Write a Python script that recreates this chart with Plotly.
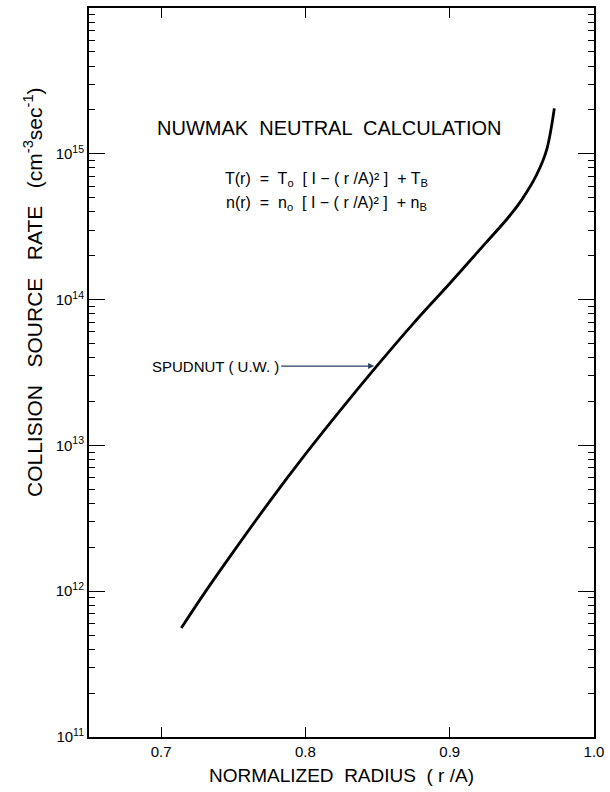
import plotly.graph_objects as go

# Data
radius = [0.714, 0.73, 0.75, 0.775, 0.80, 0.825, 0.85, 0.875, 0.90, 0.925, 0.94, 0.95, 0.96, 0.967, 0.9725]
rate = [5.6e11, 9.7e11, 1.86e12, 4.1e12, 8.7e12, 1.78e13, 3.55e13, 6.9e13, 1.29e14, 2.45e14, 3.6e14, 4.85e14, 7.1e14, 1.05e15, 2.05e15]

x_ticks = [0.7, 0.8, 0.9, 1.0]
x_ticktext = ["0.7", "0.8", "0.9", "1.0"]
y_ticks = [1e11, 1e12, 1e13, 1e14, 1e15]
y_ticktext = ["10<sup>11</sup>", "10<sup>12</sup>", "10<sup>13</sup>", "10<sup>14</sup>", "10<sup>15</sup>"]

spud_x, spud_y = 0.849, 3.5e13

FONT = "Liberation Sans, Arial, sans-serif"

fig = go.Figure()
fig.add_trace(go.Scatter(x=radius, y=rate, mode="lines",
                         line=dict(color="black", width=2.8, shape="spline", smoothing=1.0),
                         showlegend=False, hoverinfo="skip"))

fig.update_layout(
    width=610, height=792,
    margin=dict(l=89, r=11, t=6, b=55),
    paper_bgcolor="white", plot_bgcolor="white",
    font=dict(family=FONT, color="black", size=14),
    showlegend=False,
)

fig.update_xaxes(range=[0.65, 1.0], tickvals=x_ticks, ticktext=x_ticktext,
                 ticks="inside", ticklen=10, tickwidth=1.3, tickcolor="black",
                 showline=True, linecolor="black", linewidth=2, mirror="ticks",
                 showgrid=False, zeroline=False, tickfont=dict(size=15, family=FONT),
                 title=dict(text="NORMALIZED  RADIUS  ( r /A)", font=dict(size=19, family=FONT), standoff=10))

fig.update_yaxes(type="log", range=[11, 16], tickvals=y_ticks, ticktext=y_ticktext,
                 ticks="inside", ticklen=16, tickwidth=1.3, tickcolor="black",
                 minor=dict(ticks="inside", ticklen=6, tickwidth=1.2, tickcolor="black",
                            dtick="D1", showgrid=False),
                 showline=True, linecolor="black", linewidth=2, mirror="allticks",
                 showgrid=False, zeroline=False, tickfont=dict(size=15, family=FONT))

fig.add_annotation(xref="paper", yref="paper", x=-0.112, y=0.611, textangle=-90,
                   text="COLLISION   SOURCE   RATE   (cm<sup>-3</sup>sec<sup>-1</sup>)",
                   showarrow=False, font=dict(size=21, family=FONT), xanchor="center", yanchor="middle")

fig.add_annotation(xref="paper", yref="paper", x=0.475, y=0.836,
                   text="NUWMAK  NEUTRAL  CALCULATION", showarrow=False,
                   font=dict(size=20, family=FONT), xanchor="center", yanchor="middle")
fig.add_annotation(xref="paper", yref="paper", x=0.47, y=0.765,
                   text="T(r)  =  T<sub>o</sub>  [ I \u2212 ( r /A)\u00b2 ]  + T<sub>B</sub>", showarrow=False,
                   font=dict(size=16, family=FONT), xanchor="center", yanchor="middle")
fig.add_annotation(xref="paper", yref="paper", x=0.47, y=0.732,
                   text="n(r)  =  n<sub>o</sub>  [ I \u2212 ( r /A)\u00b2 ]  + n<sub>B</sub>", showarrow=False,
                   font=dict(size=16, family=FONT), xanchor="center", yanchor="middle")

fig.add_annotation(x=spud_x, y=13.544, xref="x", yref="y",
                   text="SPUDNUT ( U.W. )", showarrow=True, arrowhead=2, arrowsize=1, arrowwidth=1.2,
                   ax=-95, ay=0, xanchor="right", font=dict(size=15, family=FONT),
                   standoff=2)

fig.write_html("out.html")
